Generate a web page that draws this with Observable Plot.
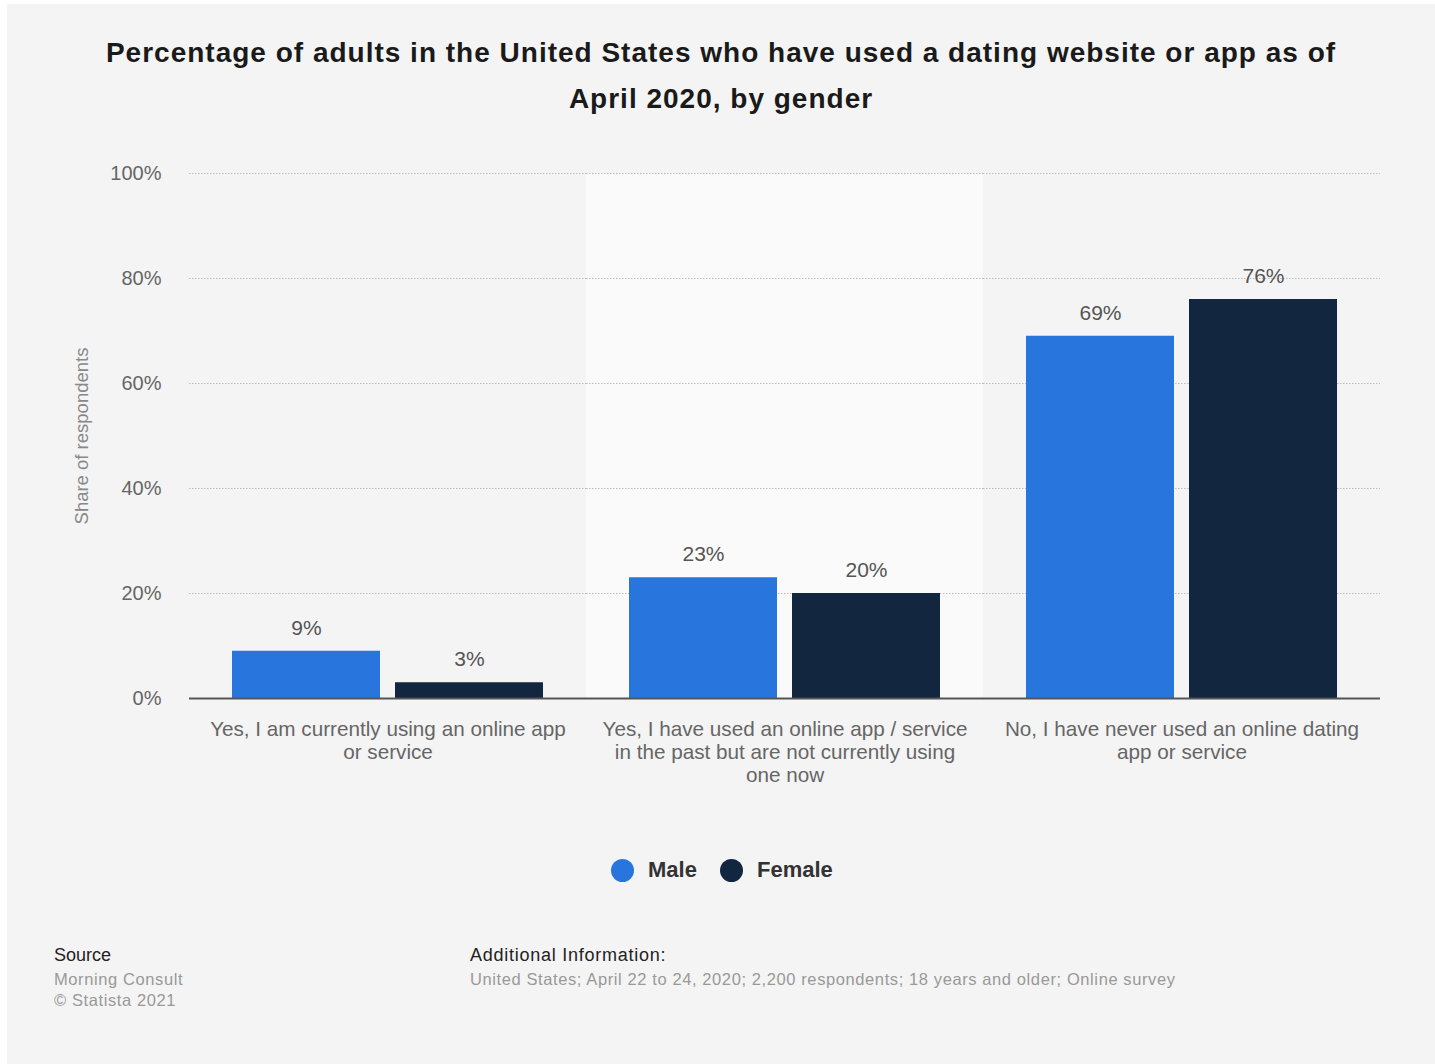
<!DOCTYPE html>
<html>
<head>
<meta charset="utf-8">
<script src="https://cdn.jsdelivr.net/npm/d3@7"></script>
<script src="https://cdn.jsdelivr.net/npm/@observablehq/plot@0.6"></script>
<style>
  html, body { margin: 0; padding: 0; background: #ffffff; }
  body { width: 1435px; height: 1064px; position: relative; overflow: hidden; font-family: "Liberation Sans", Arial, Helvetica, sans-serif; }
  #card { position: absolute; left: 7px; top: 4px; width: 1428px; height: 1060px; background: #f4f4f4; }
  #title { position: absolute; left: 0; top: 26px; width: 1428px; text-align: center; font-size: 28px; letter-spacing: 1px; line-height: 46px; font-weight: bold; color: #1a1a1a; }
  #chart { position: absolute; left: 0; top: 0; }
  .abs { position: absolute; white-space: nowrap; }
  .legend-dot { position: absolute; width: 23px; height: 23px; border-radius: 50%; }
  .legend-txt { position: absolute; font-size: 22px; font-weight: bold; color: #333; line-height: 26px; }
  .fh { font-size: 18px; color: #222; line-height: 22px; }
  .ft { font-size: 16.5px; color: #999; line-height: 22px; letter-spacing: 0.6px; }
</style>
</head>
<body>
<div id="card">
  <div id="chart"></div>
  <div id="title">Percentage of adults in the United States who have used a dating website or app as of<br>April 2020, by gender</div>
  <div id="legend"></div>
  <div class="abs fh" style="left:47px; top:940px;">Source</div>
  <div class="abs ft" style="left:47px; top:964px;">Morning Consult</div>
  <div class="abs ft" style="left:47px; top:985px;">© Statista 2021</div>
  <div class="abs fh" style="left:463px; top:940px; letter-spacing: 0.75px;">Additional Information:</div>
  <div class="abs ft" style="left:463px; top:964px;">United States; April 22 to 24, 2020; 2,200 respondents; 18 years and older; Online survey</div>
</div>
<script>
// ---- data ----
const categories = [
  "Yes, I am currently using an online app or service",
  "Yes, I have used an online app / service in the past but are not currently using one now",
  "No, I have never used an online dating app or service"
];
const categoryLabels = [
  "Yes, I am currently using an online app\nor service",
  "Yes, I have used an online app / service\nin the past but are not currently using\none now",
  "No, I have never used an online dating\napp or service"
];
const genders = ["Male", "Female"];
const maleValues = [9, 23, 69];
const femaleValues = [3, 20, 76];
const yTicks = [0, 20, 40, 60, 80, 100];
const gridTicks = [20, 40, 60, 80, 100];
const colors = ["#2876dd", "#12263f"];
const highlighted = [categories[1]];

const table = [];
categories.forEach((c, i) => {
  table.push({category: c, gender: genders[0], value: maleValues[i]});
  table.push({category: c, gender: genders[1], value: femaleValues[i]});
});

const chart = Plot.plot({
  width: 1428,
  height: 800,
  marginLeft: 181,
  marginRight: 55,
  marginTop: 169,
  marginBottom: 106,
  style: {background: "transparent", fontFamily: "'Liberation Sans', Arial, Helvetica, sans-serif", fontSize: "20px"},
  fx: {domain: categories, padding: 0, axis: null},
  x: {domain: genders, paddingInner: 0.095, paddingOuter: 0.26, axis: null},
  y: {domain: [0, 100], axis: null},
  color: {domain: genders, range: colors},
  marks: [
    Plot.barY(highlighted, {fx: d => d, y1: 0, y2: 100, fill: "#fafafa"}),
    Plot.gridY(gridTicks, {stroke: "#bdbdbd", strokeOpacity: 1, strokeWidth: 1, strokeDasharray: "1.5,1.5"}),
    Plot.barY(table, {fx: "category", x: "gender", y: "value", fill: "gender"}),
    Plot.ruleY([0], {stroke: "#555", strokeWidth: 2}),
    Plot.text(table, {fx: "category", x: "gender", y: "value", text: d => d.value + "%", dy: -23, fontSize: 21, fill: "#555"}),
    Plot.axisY(yTicks, {anchor: "left", tickSize: 0, tickPadding: 28, tickFormat: d => d + "%", fontSize: 20, fill: "#666", label: null}),
    Plot.axisY({anchor: "left", ticks: [], label: "Share of respondents", labelAnchor: "center", labelOffset: 115, labelArrow: "none", fontSize: 18.5, fill: "#888"}),
    Plot.axisFx({anchor: "bottom", tickSize: 0, tickPadding: 21, fontSize: 20.7, fill: "#666", lineHeight: 1.12, label: null, tickFormat: d => categoryLabels[categories.indexOf(d)]})
  ]
});
document.getElementById("chart").appendChild(chart);

// legend
const legend = document.getElementById("legend");
const legendX = [[604, 641], [713, 750]];
genders.forEach((g, i) => {
  const dot = document.createElement("div");
  dot.className = "legend-dot";
  dot.style.left = legendX[i][0] + "px";
  dot.style.top = (866 - 11.5) + "px";
  dot.style.background = colors[i];
  legend.appendChild(dot);
  const t = document.createElement("div");
  t.className = "legend-txt";
  t.style.left = legendX[i][1] + "px";
  t.style.top = (866 - 13) + "px";
  t.textContent = g;
  legend.appendChild(t);
});
</script>
</body>
</html>
